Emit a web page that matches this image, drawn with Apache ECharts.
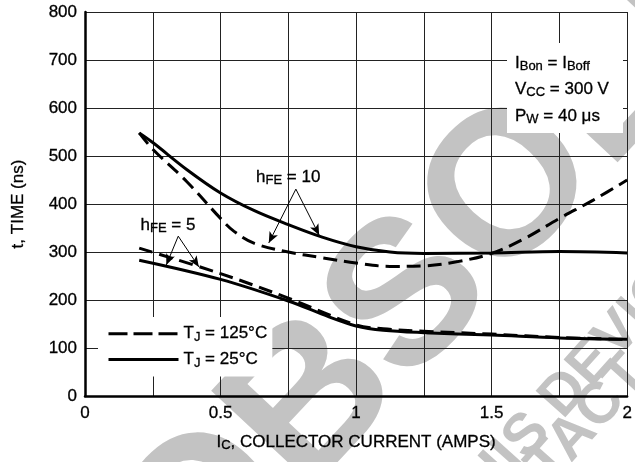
<!DOCTYPE html>
<html>
<head>
<meta charset="utf-8">
<script src="https://cdn.jsdelivr.net/npm/echarts@6/dist/echarts.min.js"></script>
<style>
html,body{margin:0;padding:0;background:#fff;}
#chart{width:635px;height:462px;}
</style>
</head>
<body>
<div id="chart"></div>
<script>
// ---- data ----
const hfe10_25C_x = [0.2, 0.25, 0.375, 0.5, 0.625, 0.75, 0.875, 1.0, 1.125, 1.25, 1.5, 1.75, 2.0];
const hfe10_25C_y = [548, 528, 472, 423, 386, 357, 331, 311, 300, 297, 298, 301, 298];

const hfe10_125C_x = [0.2, 0.25, 0.375, 0.5, 0.55, 0.625, 0.75, 0.875, 1.0, 1.125, 1.25, 1.375, 1.5, 1.625, 1.75, 1.875, 2.0];
const hfe10_125C_y = [548, 514, 447, 370, 343, 318, 300, 288, 277, 270, 271, 280, 297, 329, 370, 408, 450];

const hfe5_25C_x = [0.2, 0.5, 0.75, 0.9, 1.0, 1.1, 1.25, 1.5, 1.75, 2.0];
const hfe5_25C_y = [283, 243, 198, 165, 146, 137, 132, 127, 121, 118];

const hfe5_125C_x = [0.2, 0.5, 0.75, 1.0, 1.1, 1.25, 1.5, 1.75, 2.0];
const hfe5_125C_y = [308, 255, 204, 148, 140, 135, 129, 122, 118];

const xTickValues = [0, 0.5, 1, 1.5, 2];
const yTickValues = [0, 100, 200, 300, 400, 500, 600, 700, 800];

const legendNames = ['TJ = 125°C', 'TJ = 25°C'];

// annotation arrows: [apex, tip] in data units
const arrowsHfe10 = [[[0.778, 431], [0.678, 319]], [[0.778, 431], [0.864, 335]]];
const arrowsHfe5 = [[[0.344, 333], [0.300, 273]], [[0.344, 333], [0.420, 269]]];
// label anchors (left, middle) in data units
const labelHfe10 = [0.631, 456];
const labelHfe5 = [0.205, 356];

const FONT = "'Liberation Sans', Arial, Helvetica, sans-serif";
const TB = {textBorderColor: '#000', textBorderWidth: 0.3};
const rich = {
  m: Object.assign({fontFamily: FONT, fontSize: 17, color: '#000', lineHeight: 20}, TB),
  s: Object.assign({fontFamily: FONT, fontSize: 13, color: '#000', lineHeight: 8, verticalAlign: 'bottom'}, TB)
};
// zrender-style rich for graphic elements
const richG = {
  m: {fontFamily: FONT, fontSize: 17, fill: '#000', stroke: '#000', lineWidth: 0.3, lineHeight: 20},
  s: {fontFamily: FONT, fontSize: 13, fill: '#000', stroke: '#000', lineWidth: 0.3, lineHeight: 8, verticalAlign: 'bottom'}
};

function pairs(xs, ys) { return xs.map((x, i) => [x, ys[i]]); }

const chart = echarts.init(document.getElementById('chart'), null, {renderer: 'canvas'});

const dashed = [14, 7];
const baseSeries = (name, xs, ys, type) => ({
  name: name,
  type: 'line',
  data: pairs(xs, ys),
  showSymbol: false,
  symbol: 'none',
  smooth: 0.35,
  z: 5,
  lineStyle: {color: '#000', width: 3, type: type},
  itemStyle: {color: '#000'},
  emphasis: {disabled: true}
});

const arrowData = arrowsHfe10.concat(arrowsHfe5).map(a => [{coord: a[0]}, {coord: a[1]}]);

const option = {
  animation: false,
  backgroundColor: '#fff',
  grid: {left: 85, right: 2, top: 12, bottom: 66, containLabel: false},
  legend: {
    data: [
      {name: legendNames[0], lineStyle: {type: [19, 6], width: 3, color: '#000'}},
      {name: legendNames[1], lineStyle: {type: 'solid', width: 3, color: '#000'}}
    ],
    orient: 'vertical',
    left: 98,
    top: 317,
    padding: [8, 5, 7, 9],
    itemWidth: 70,
    itemHeight: 14,
    itemGap: 7,
    backgroundColor: '#fff',
    selectedMode: false,
    itemStyle: {color: 'rgba(0,0,0,0)', borderWidth: 0, opacity: 0},
    formatter: function (n) {
      return n === legendNames[0] ? '{m|T}{s|J}{m| = 125°C}' : '{m|T}{s|J}{m| = 25°C}';
    },
    textStyle: {rich: rich}
  },
  xAxis: {
    type: 'value',
    min: 0, max: 2, interval: 0.25,
    axisLine: {show: true, onZero: false, lineStyle: {color: '#000', width: 2.5}},
    axisTick: {show: false},
    splitLine: {show: true, lineStyle: {color: '#222', width: 1}},
    axisLabel: Object.assign({
      fontFamily: FONT, fontSize: 17, color: '#000', margin: 9,
      formatter: v => (xTickValues.indexOf(v) >= 0 ? String(v) : '')
    }, TB),
    name: '{m|I}{s|C}{m|, COLLECTOR CURRENT (AMPS)}',
    nameLocation: 'middle',
    nameGap: 36,
    nameTextStyle: {rich: rich}
  },
  yAxis: {
    type: 'value',
    min: 0, max: 800, interval: 100,
    axisLine: {show: true, onZero: false, lineStyle: {color: '#000', width: 2.5}},
    axisTick: {show: false},
    splitLine: {show: true, lineStyle: {color: '#222', width: 1}},
    axisLabel: Object.assign({
      fontFamily: FONT, fontSize: 17, color: '#000', margin: 8,
      formatter: v => (yTickValues.indexOf(v) >= 0 ? String(v) : '')
    }, TB),
    name: 't, TIME (ns)',
    nameLocation: 'middle',
    nameGap: 58,
    nameTextStyle: Object.assign({fontFamily: FONT, fontSize: 17, color: '#000'}, TB)
  },
  series: [
    baseSeries(legendNames[0], hfe10_125C_x, hfe10_125C_y, dashed),
    baseSeries(legendNames[1], hfe10_25C_x, hfe10_25C_y, 'solid'),
    baseSeries(legendNames[0], hfe5_125C_x, hfe5_125C_y, dashed),
    baseSeries(legendNames[1], hfe5_25C_x, hfe5_25C_y, 'solid'),
    {
      name: 'arrows',
      type: 'line',
      data: [],
      z: 6,
      markLine: {
        silent: true,
        animation: false,
        symbol: ['none', 'arrow'],
        symbolSize: [7, 11],
        label: {show: false},
        lineStyle: {color: '#000', width: 1, type: 'solid'},
        emphasis: {disabled: true},
        data: arrowData
      }
    }
  ]
};
chart.setOption(option);

const p10 = chart.convertToPixel({gridIndex: 0}, labelHfe10);
const p5 = chart.convertToPixel({gridIndex: 0}, labelHfe5);

const WM = '#c3c3c3';
const wmFont = sz => "bold " + sz + "px 'Liberation Sans', Arial, sans-serif";
chart.setOption({
  graphic: [
    // watermark
    {type: 'text', x: 155, y: 575, rotation: 0.82, z: -10, silent: true,
      style: {text: 'OBSOLETE', font: wmFont(205), fill: WM, textAlign: 'left', textVerticalAlign: 'middle'}},
    {type: 'text', x: 452, y: 520, rotation: 0.84, z: -10, silent: true,
      style: {text: 'THIS DEVICE', font: wmFont(58), fill: WM, textAlign: 'left', textVerticalAlign: 'middle'}},
    {type: 'text', x: 452, y: 572, rotation: 0.84, z: -10, silent: true,
      style: {text: 'CONTACT', font: wmFont(58), fill: WM, textAlign: 'left', textVerticalAlign: 'middle'}},
    // conditions box
    {type: 'rect', x: 507, y: 43, z: 20, silent: true,
      shape: {x: 0, y: 0, width: 116, height: 90}, style: {fill: '#fff'}},
    {type: 'text', x: 515, y: 63, z: 21, silent: true,
      style: {text: '{m|I}{s|Bon}{m| = I}{s|Boff}', rich: richG, textAlign: 'left', textVerticalAlign: 'middle'}},
    {type: 'text', x: 515, y: 89, z: 21, silent: true,
      style: {text: '{m|V}{s|CC}{m| = 300 V}', rich: richG, textAlign: 'left', textVerticalAlign: 'middle'}},
    {type: 'text', x: 515, y: 116, z: 21, silent: true,
      style: {text: '{m|P}{s|W}{m| = 40 μs}', rich: richG, textAlign: 'left', textVerticalAlign: 'middle'}},
    // hFE labels
    {type: 'text', x: p10[0], y: p10[1], z: 21, silent: true,
      style: {text: '{m|h}{s|FE}{m| = 10}', rich: richG, textAlign: 'left', textVerticalAlign: 'middle'}},
    {type: 'text', x: p5[0], y: p5[1], z: 21, silent: true,
      style: {text: '{m|h}{s|FE}{m| = 5}', rich: richG, textAlign: 'left', textVerticalAlign: 'middle'}}
  ]
});
</script>
</body>
</html>
